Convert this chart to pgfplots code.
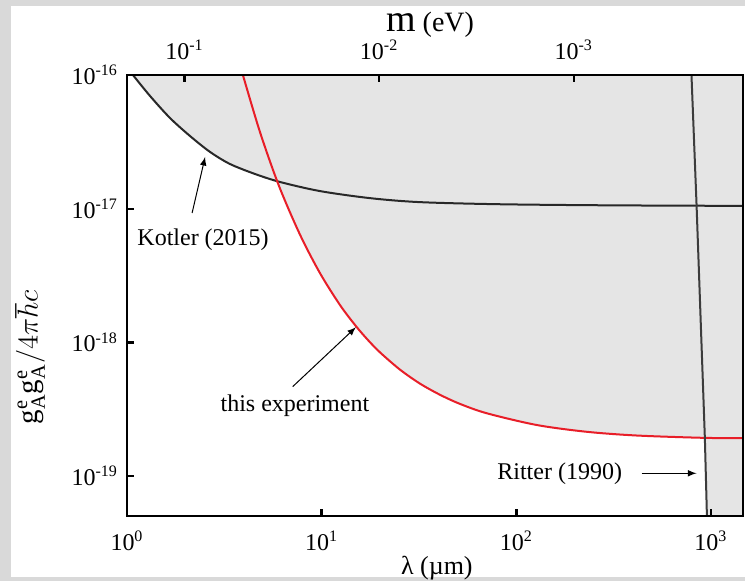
\documentclass[border=0pt]{standalone}
\usepackage{fontspec}
\setmainfont{Liberation Serif}
\usepackage{pgfplots}
\pgfplotsset{compat=1.18}
\definecolor{fillg}{RGB}{229,229,229}
\definecolor{outerg}{RGB}{217,217,217}
\definecolor{kred}{RGB}{232,30,40}
\definecolor{kdark}{RGB}{40,40,40}
\definecolor{rdark}{RGB}{60,60,60}
\begin{document}
\begin{tikzpicture}
\fill[outerg] (0pt,0pt) rectangle (372.5pt,290.5pt);
\fill[white] (5.5pt,2pt) rectangle (372.5pt,287.5pt);
\begin{axis}[at={(63.5pt,32.5pt)}, anchor=south west, scale only axis,
  width=308pt, height=220.5pt,
  xmode=log, ymode=log, xmin=1, xmax=1460, ymin=5.03e-20, ymax=1e-16,
  axis on top, axis line style={line width=1.2pt},
  xtick={1,10,100,1000},
  xticklabels={10\textsuperscript{0},10\textsuperscript{1},10\textsuperscript{2},10\textsuperscript{3}},
  ytick={1e-19,1e-18,1e-17,1e-16},
  yticklabels={10\textsuperscript{-19},10\textsuperscript{-18},10\textsuperscript{-17},10\textsuperscript{-16}},
  xtick pos=left, ytick pos=left, tick align=inside,
  major tick length=3.5pt, minor tick length=0pt,
  every tick/.style={black, line width=1.2pt},
  tick label style={font=\fontsize{12}{14}\selectfont},
  xticklabel style={yshift=-4pt},
  yticklabel style={xshift=-1pt},
  xlabel={λ (µm)},
  xlabel style={font=\fontsize{13}{15}\selectfont, at={(axis description cs:0.503,-0.118)}, anchor=center},
  ylabel={$\mathrm{g}^{\mathrm{e}}_{\mathrm{A}}\mathrm{g}^{\mathrm{e}}_{\mathrm{A}}/4\pi\hbar c$},
  ylabel style={font=\fontsize{14.5}{17}\selectfont, at={(axis description cs:-0.157,0.36)}, anchor=center},
]
% excluded region
\addplot[fill=fillg, draw=none] coordinates {
 (1.073,1e-16) (1.313,6.97e-17) (1.663,4.77e-17) (2.106,3.50e-17) (2.669,2.66e-17)
 (3.38,2.16e-17) (4.54,1.82e-17) (5.92,1.62e-17) (6.03,1.486e-17) (7.74,6.40e-18)
 (9.80,3.30e-18) (12.42,1.904e-18) (15.01,1.322e-18) (17.29,1.042e-18) (19.93,8.43e-19)
 (25.25,6.26e-19) (31.98,4.92e-19) (40.52,4.06e-19) (51.32,3.47e-19) (70.63,2.95e-19)
 (127.6,2.41e-19) (230.5,2.145e-19) (416.3,2.012e-19) (908.8,1.934e-19) (930,1.93e-19)
 (953,5.03e-20) (1460,5.03e-20) (1460,1e-16)
} -- cycle;
% Kotler (2015)
\addplot[kdark, line width=1pt, smooth, tension=0.5] coordinates {
 (1.073,1e-16) (1.313,6.97e-17) (1.663,4.77e-17) (2.106,3.50e-17) (2.669,2.66e-17)
 (3.38,2.16e-17) (4.54,1.82e-17) (6.11,1.585e-17) (9.80,1.355e-17) (17.7,1.20e-17)
 (32.0,1.12e-17) (82.4,1.08e-17) (300,1.06e-17) (1460,1.05e-17)
};
% this experiment
\addplot[kred, line width=1pt, smooth, tension=0.5] coordinates {
 (3.94,1e-16) (4.82,3.748e-17) (6.03,1.486e-17) (7.74,6.40e-18) (9.80,3.30e-18)
 (12.42,1.904e-18) (15.01,1.322e-18) (17.29,1.042e-18) (19.93,8.43e-19) (25.25,6.26e-19)
 (31.98,4.92e-19) (40.52,4.06e-19) (51.32,3.47e-19) (70.63,2.95e-19) (127.6,2.41e-19)
 (230.5,2.145e-19) (416.3,2.012e-19) (908.8,1.934e-19) (1459,1.921e-19)
};
% Ritter (1990)
\addplot[rdark, line width=1pt] coordinates {
 (794,1e-16) (843,1.07e-17) (930,1.93e-19) (953,5.03e-20)
};
\node[font=\fontsize{12}{14}\selectfont] at (axis cs:2.46,5.83e-18) {Kotler (2015)};
\draw[-latex, line width=0.5pt] (axis cs:2.16,9.29e-18) -- (axis cs:2.52,2.44e-17);
\node[font=\fontsize{12}{14}\selectfont] at (axis cs:7.29,3.34e-19) {this experiment};
\draw[-latex, line width=0.5pt] (axis cs:7.10,4.67e-19) -- (axis cs:15.0,1.30e-18);
\node[font=\fontsize{12}{14}\selectfont] at (axis cs:167,1.05e-19) {Ritter (1990)};
\draw[-latex, line width=0.5pt] (axis cs:440,1.05e-19) -- (axis cs:843,1.05e-19);
\end{axis}
\begin{axis}[at={(63.5pt,32.5pt)}, anchor=south west, scale only axis,
  width=308pt, height=220.5pt,
  xmode=log, x dir=reverse, xmin=1.3516e-4, xmax=0.19733, ymin=0, ymax=1,
  axis x line*=top, axis y line=none,
  axis line style={line width=1.2pt},
  xtick={0.1,0.01,0.001},
  xticklabels={10\textsuperscript{-1},10\textsuperscript{-2},10\textsuperscript{-3}},
  tick align=inside, major tick length=3.5pt, minor tick length=0pt,
  every tick/.style={black, line width=1.2pt},
  tick label style={font=\fontsize{12}{14}\selectfont},
  xticklabel style={yshift=4pt},
  xlabel={{\fontsize{19}{19}\selectfont m} (eV)},
  xlabel style={font=\fontsize{14}{16}\selectfont, at={(axis description cs:0.492,1.113)}, anchor=center},
]
\end{axis}
\pgfresetboundingbox
\path[use as bounding box] (0pt,0pt) rectangle (372.5pt,290.5pt);
\end{tikzpicture}
\end{document}
